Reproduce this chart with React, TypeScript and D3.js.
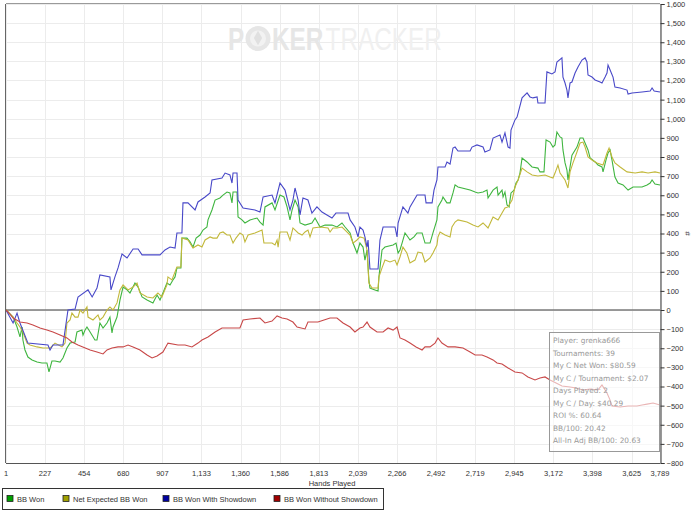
import React, { useEffect, useRef } from 'react';
import * as d3 from 'd3';

// series values as [hand, bb] pairs
const bbWon: [number, number][] = [
  [1, 0], [42, -37], [65, -89], [82, -141], [94, -89], [99, -157], [111, -209], [128, -246], [152, -261],
  [181, -272], [209, -277], [238, -277], [250, -324], [267, -267], [285, -267], [314, -272], [331, -251],
  [354, -199], [372, -173], [401, -167], [412, -115], [441, -105], [447, -131], [459, -105], [470, -89],
  [488, -115], [516, -157], [528, -157], [545, -68], [563, -94], [586, -68], [603, -37], [615, -120],
  [621, -89], [644, -37], [661, 52], [679, 120], [702, 105], [719, 89], [748, 141], [766, 120], [789, 68],
  [818, 52], [852, 37], [876, 78], [893, 52], [910, 89], [933, 141], [951, 131], [968, 157], [980, 173],
  [991, 220], [1014, 220], [1020, 376], [1049, 376], [1067, 356], [1084, 329], [1102, 376], [1125, 392],
  [1142, 418], [1165, 434], [1171, 471], [1194, 523], [1212, 575], [1240, 586], [1258, 601], [1281, 617],
  [1298, 612], [1310, 560], [1316, 617], [1339, 617], [1345, 486], [1368, 471], [1385, 455], [1414, 471],
  [1455, 481], [1472, 460], [1490, 444], [1501, 539], [1542, 560], [1559, 523], [1588, 601], [1611, 591],
  [1629, 539], [1646, 471], [1658, 523], [1675, 575], [1693, 539], [1704, 455], [1733, 444], [1773, 455],
  [1791, 481], [1820, 434], [1849, 444], [1889, 444], [1918, 434], [1947, 455], [1965, 434], [1994, 403],
  [2011, 350], [2034, 298], [2051, 350], [2069, 329], [2080, 261], [2092, 314], [2103, 157], [2109, 115],
  [2138, 105], [2156, 99], [2161, 173], [2179, 314], [2196, 329], [2243, 340], [2260, 350], [2272, 298],
  [2283, 314], [2295, 350], [2312, 403], [2329, 382], [2341, 366], [2364, 382], [2382, 403], [2411, 403],
  [2428, 350], [2457, 350], [2474, 403], [2497, 471], [2503, 539], [2526, 575], [2532, 591], [2555, 560],
  [2573, 560], [2590, 612], [2602, 654], [2619, 643], [2689, 627], [2718, 617], [2735, 612], [2764, 617],
  [2787, 627], [2793, 586], [2822, 627], [2845, 643], [2851, 601], [2874, 627], [2880, 591], [2891, 617],
  [2903, 549], [2915, 539], [2926, 612], [2944, 627], [2955, 664], [2967, 680], [2978, 716], [2990, 795],
  [3019, 774], [3048, 748], [3082, 742], [3094, 722], [3117, 722], [3129, 889], [3152, 878], [3169, 852],
  [3181, 863], [3192, 931], [3210, 905], [3221, 899], [3227, 837], [3239, 769], [3250, 732], [3256, 680],
  [3268, 748], [3279, 810], [3308, 852], [3326, 899], [3343, 899], [3355, 873], [3372, 837], [3384, 795],
  [3413, 774], [3430, 758], [3453, 748], [3459, 722], [3476, 784], [3488, 821], [3500, 837], [3511, 784],
  [3528, 695], [3546, 664], [3575, 654], [3604, 627], [3633, 643], [3685, 643], [3714, 654], [3732, 664],
  [3743, 680], [3760, 659], [3789, 654],
];

const netExpected: [number, number][] = [
  [1, 0], [42, -37], [65, -68], [82, -89], [99, -115], [123, -173], [140, -183], [181, -193], [215, -199],
  [256, -199], [285, -173], [325, -193], [343, -173], [354, -68], [372, -52], [383, -16], [401, -37],
  [418, -37], [430, 0], [447, -16], [470, 16], [476, -37], [505, -52], [534, -26], [545, -52], [563, -37],
  [586, 0], [603, 16], [621, 0], [644, 37], [661, 105], [679, 131], [708, 105], [737, 120], [760, 141],
  [777, 89], [818, 68], [852, 63], [881, 89], [904, 68], [933, 131], [939, 173], [962, 157], [991, 225],
  [1014, 225], [1020, 376], [1055, 366], [1084, 324], [1113, 340], [1136, 329], [1154, 366], [1183, 382],
  [1200, 376], [1223, 376], [1240, 403], [1258, 408], [1281, 392], [1298, 392], [1316, 350], [1333, 376],
  [1356, 403], [1374, 392], [1385, 356], [1403, 392], [1443, 403], [1484, 418], [1495, 350], [1542, 350],
  [1559, 340], [1571, 366], [1577, 329], [1588, 408], [1629, 408], [1646, 366], [1663, 429], [1693, 403],
  [1716, 392], [1733, 408], [1750, 418], [1762, 382], [1779, 429], [1820, 434], [1866, 429], [1878, 408],
  [1895, 429], [1918, 429], [1947, 434], [1965, 418], [1994, 392], [2011, 350], [2034, 366], [2051, 382],
  [2075, 376], [2092, 314], [2103, 141], [2121, 115], [2156, 115], [2161, 173], [2179, 220], [2196, 261],
  [2225, 251], [2254, 261], [2266, 235], [2283, 277], [2300, 329], [2323, 298], [2341, 246], [2370, 261],
  [2387, 303], [2411, 298], [2428, 251], [2457, 272], [2474, 298], [2497, 340], [2503, 382], [2515, 408],
  [2544, 392], [2573, 382], [2584, 434], [2602, 460], [2619, 471], [2671, 460], [2706, 444], [2735, 434],
  [2764, 455], [2793, 429], [2822, 486], [2851, 471], [2874, 507], [2891, 533], [2909, 539], [2932, 575],
  [2949, 643], [2967, 680], [2990, 742], [3019, 722], [3048, 706], [3082, 701], [3123, 706], [3152, 695],
  [3169, 690], [3181, 716], [3198, 758], [3210, 716], [3239, 680], [3256, 638], [3268, 722], [3285, 769],
  [3308, 826], [3326, 873], [3343, 878], [3355, 852], [3372, 800], [3395, 784], [3424, 769], [3459, 758],
  [3482, 821], [3494, 847], [3511, 800], [3528, 769], [3558, 748], [3598, 722], [3645, 716], [3685, 722],
  [3720, 716], [3760, 722], [3789, 716],
];

const bbShowdown: [number, number][] = [
  [1, 0], [42, -68], [65, -16], [82, -68], [128, -173], [244, -183], [256, -209], [273, -183], [331, -183],
  [360, 0], [401, 5], [418, 68], [476, 105], [500, 68], [528, 115], [545, 183], [603, 173], [609, 105],
  [632, 173], [650, 220], [673, 293], [702, 272], [737, 319], [766, 319], [789, 288], [893, 288], [922, 314],
  [951, 329], [980, 324], [991, 403], [1020, 403], [1026, 560], [1055, 560], [1096, 523], [1113, 565],
  [1154, 591], [1183, 612], [1194, 680], [1252, 690], [1270, 716], [1298, 706], [1310, 664], [1316, 716],
  [1339, 716], [1345, 575], [1374, 533], [1443, 523], [1472, 512], [1490, 591], [1542, 601], [1559, 560],
  [1588, 664], [1617, 627], [1646, 523], [1663, 575], [1675, 638], [1693, 575], [1704, 497], [1721, 586],
  [1750, 575], [1773, 507], [1802, 539], [1831, 512], [1860, 497], [1889, 481], [1912, 507], [1982, 507],
  [1994, 471], [2022, 434], [2040, 382], [2051, 434], [2069, 418], [2080, 382], [2092, 329], [2098, 366],
  [2109, 214], [2156, 214], [2167, 366], [2185, 434], [2254, 434], [2266, 382], [2272, 455], [2300, 539],
  [2329, 507], [2341, 539], [2382, 601], [2428, 601], [2434, 560], [2469, 560], [2480, 627], [2497, 680],
  [2503, 748], [2544, 748], [2555, 774], [2573, 763], [2590, 847], [2602, 852], [2619, 831], [2689, 831],
  [2700, 852], [2729, 863], [2764, 852], [2775, 826], [2804, 837], [2822, 899], [2862, 915], [2874, 878],
  [2891, 926], [2909, 852], [2920, 847], [2926, 941], [2949, 994], [2961, 1009], [2990, 1109], [3019, 1135],
  [3036, 1114], [3053, 1109], [3077, 1114], [3082, 1082], [3123, 1082], [3134, 1245], [3163, 1234],
  [3181, 1245], [3192, 1297], [3221, 1318], [3227, 1218], [3239, 1187], [3250, 1150], [3256, 1109],
  [3268, 1187], [3279, 1192], [3297, 1239], [3314, 1271], [3337, 1307], [3355, 1318], [3366, 1297],
  [3372, 1229], [3395, 1218], [3413, 1203], [3442, 1192], [3453, 1187], [3471, 1218], [3482, 1239],
  [3488, 1281], [3500, 1255], [3517, 1218], [3528, 1166], [3558, 1161], [3598, 1150], [3604, 1129],
  [3627, 1135], [3685, 1140], [3732, 1145], [3743, 1161], [3755, 1145], [3789, 1140],
];

const bbNoShowdown: [number, number][] = [
  [1, 0], [24, -21], [42, -42], [82, -63], [123, -68], [157, -78], [198, -94], [238, -105], [273, -115],
  [314, -131], [354, -146], [383, -167], [418, -183], [488, -209], [528, -220], [563, -230], [586, -209],
  [615, -199], [650, -193], [679, -193], [708, -183], [737, -193], [777, -209], [818, -235], [847, -251],
  [876, -240], [910, -220], [939, -173], [997, -183], [1038, -183], [1078, -193], [1113, -173], [1136, -157],
  [1171, -141], [1212, -115], [1252, -94], [1310, -94], [1356, -94], [1374, -52], [1414, -47], [1472, -42],
  [1501, -68], [1542, -58], [1571, -31], [1600, -42], [1629, -47], [1663, -63], [1687, -89], [1733, -99],
  [1750, -63], [1808, -63], [1843, -52], [1878, -42], [1918, -42], [1953, -68], [1994, -89], [2022, -115],
  [2051, -94], [2069, -89], [2092, -63], [2109, -89], [2150, -115], [2185, -115], [2214, -94], [2243, -105],
  [2266, -89], [2283, -146], [2312, -157], [2341, -173], [2376, -193], [2411, -209], [2428, -193],
  [2457, -193], [2486, -173], [2503, -146], [2526, -173], [2561, -193], [2602, -193], [2648, -199],
  [2689, -220], [2718, -235], [2758, -235], [2787, -246], [2822, -261], [2845, -277], [2874, -282],
  [2909, -303], [2949, -324], [2990, -329], [3024, -350], [3065, -366], [3094, -356], [3123, -350],
  [3152, -366], [3187, -382], [3221, -397], [3268, -403], [3302, -408], [3343, -418], [3384, -413],
  [3430, -418], [3453, -392], [3482, -434], [3500, -471], [3511, -502], [3558, -507], [3604, -502],
  [3656, -502], [3685, -497], [3714, -492], [3749, -486], [3789, -497],
];

const xTicks = [1, 227, 454, 680, 907, 1133, 1360, 1586, 1813, 2039, 2266, 2492, 2719, 2945, 3172, 3398, 3625, 3789];
const yTicks = d3.range(-800, 1601, 100);

const seriesNames = ['BB Won', 'Net Expected BB Won', 'BB Won With Showdown', 'BB Won Without Showdown'];
const seriesData = [bbWon, netExpected, bbShowdown, bbNoShowdown];
const lineColors = ['#3fb53f', '#c2b83a', '#4848c8', '#c84848'];
const swatchColors = ['#00a000', '#a0a000', '#0000a0', '#a00000'];

const statLines = [
  'Player: grenka666',
  'Tournaments: 39',
  'My C Net Won: $80.59',
  'My C / Tournament: $2.07',
  'Days Played: 2',
  'My C / Day: $40.29',
  'ROI %: 60.64',
  'BB/100: 20.42',
  'All-In Adj BB/100: 20.63',
];

const App = () => {
  const ref = useRef<SVGSVGElement>(null);

  useEffect(() => {
    const left = 6, right = 660, top = 4, bottom = 463;
    const svg = d3.select(ref.current);
    svg.selectAll('*').remove();

    const x = d3.scaleLinear().domain([1, 3789]).range([left, right]);
    const y = d3.scaleLinear().domain([-800, 1600]).range([bottom, top]);

    svg.append('rect').attr('width', 700).attr('height', 516).attr('fill', '#fff');

    // grid
    const grid = svg.append('g').attr('stroke', '#ececec').attr('stroke-width', 1);
    grid.selectAll('line.h').data(yTicks).enter().append('line')
      .attr('x1', left).attr('x2', right)
      .attr('y1', (d) => Math.round(y(d)) + 0.5).attr('y2', (d) => Math.round(y(d)) + 0.5);
    grid.selectAll('line.v').data(xTicks).enter().append('line')
      .attr('x1', (d) => Math.round(x(d)) + 0.5).attr('x2', (d) => Math.round(x(d)) + 0.5)
      .attr('y1', top).attr('y2', bottom);

    // watermark (horizontally squeezed logo text)
    const sx = 0.76;
    const wm = svg.append('g').attr('font-family', 'Liberation Sans, Arial, sans-serif').attr('font-size', 32);
    wm.append('text').attr('transform', `scale(${sx},1)`).attr('x', 228 / sx).attr('y', 50)
      .attr('fill', '#e6e6e6').attr('font-weight', 'bold').text('P');
    wm.append('circle').attr('cx', 258).attr('cy', 38.5).attr('r', 12.5).attr('fill', '#e6e6e6');
    wm.append('circle').attr('cx', 258).attr('cy', 38.5).attr('r', 8).attr('fill', '#f2f2f2');
    wm.append('path').attr('d', d3.symbol(d3.symbolDiamond, 60)()).attr('transform', 'translate(258,38)')
      .attr('fill', '#e0e0e0');
    const logo = wm.append('text').attr('transform', `scale(${sx},1)`).attr('x', 272 / sx).attr('y', 50);
    logo.append('tspan').attr('fill', '#e6e6e6').attr('font-weight', 'bold').text('KER');
    logo.append('tspan').attr('dx', 3).attr('fill', '#f0f0f0').text('TRACKER');

    // zero line
    svg.append('line').attr('x1', left).attr('x2', right).attr('y1', y(0)).attr('y2', y(0))
      .attr('stroke', '#7a7a7a').attr('stroke-width', 1.6);

    // lines
    const line = d3.line<[number, number]>().x((d) => x(d[0])).y((d) => y(d[1]));
    seriesData.forEach((s, i) => {
      svg.append('path').datum(s).attr('d', line).attr('fill', 'none')
        .attr('stroke', lineColors[i]).attr('stroke-width', 1.1);
    });

    // frame
    svg.append('line').attr('x1', left).attr('x2', right).attr('y1', top - 0.5).attr('y2', top - 0.5)
      .attr('stroke', '#9a9a9a');
    svg.append('line').attr('x1', left - 0.5).attr('x2', left - 0.5).attr('y1', top).attr('y2', bottom)
      .attr('stroke', '#666');
    svg.append('line').attr('x1', left).attr('x2', right).attr('y1', bottom + 0.5).attr('y2', bottom + 0.5)
      .attr('stroke', '#555');

    // right axis
    const yAxis = svg.append('g').attr('transform', `translate(${right + 0.5},0)`)
      .call(d3.axisRight(y).tickValues(yTicks).tickSize(4).tickPadding(2).tickFormat(d3.format(',')));
    yAxis.select('.domain').attr('stroke', '#333');
    yAxis.selectAll('.tick line').attr('stroke', '#333');
    yAxis.selectAll('text').attr('font-family', 'Liberation Sans, Arial, sans-serif')
      .attr('font-size', 7.5).attr('fill', '#333');

    svg.append('text').attr('transform', `translate(690,${y(400)}) rotate(-90)`).attr('text-anchor', 'middle')
      .attr('font-family', 'Liberation Sans, Arial, sans-serif').attr('font-size', 8).attr('fill', '#333').text('#');

    // x labels
    svg.append('g').selectAll('text').data(xTicks).enter().append('text')
      .attr('x', (d) => x(d)).attr('y', 476).attr('text-anchor', 'middle')
      .attr('font-family', 'Liberation Sans, Arial, sans-serif').attr('font-size', 7.5).attr('fill', '#333')
      .text((d) => d3.format(',')(d));
    svg.append('text').attr('x', 332).attr('y', 486).attr('text-anchor', 'middle')
      .attr('font-family', 'Liberation Sans, Arial, sans-serif').attr('font-size', 7.5).attr('fill', '#333')
      .text('Hands Played');

    // stats box
    svg.append('rect').attr('x', 549.5).attr('y', 332.5).attr('width', 110).attr('height', 119)
      .attr('fill', '#fff').attr('fill-opacity', 0.6).attr('stroke', '#999');
    svg.append('g').selectAll('text').data(statLines).enter().append('text')
      .attr('x', 553).attr('y', (d, i) => 343 + i * 12.5)
      .attr('font-family', 'DejaVu Sans, sans-serif').attr('font-size', 7.4).attr('fill', '#999')
      .text((d) => d);

    // legend
    svg.append('rect').attr('x', 2.5).attr('y', 488.5).attr('width', 381).attr('height', 21)
      .attr('fill', '#fff').attr('stroke', '#333');
    const legendX = [7, 63, 163, 274];
    const items = svg.append('g').selectAll('g').data(seriesNames).enter().append('g')
      .attr('transform', (d, i) => `translate(${legendX[i]},495.5)`);
    items.append('rect').attr('width', 6).attr('height', 6).attr('fill', (d, i) => swatchColors[i])
      .attr('stroke', '#222').attr('stroke-width', 0.8);
    items.append('text').attr('x', 10).attr('y', 6).attr('font-family', 'Liberation Sans, Arial, sans-serif')
      .attr('font-size', 7.5).attr('fill', '#333').text((d) => d);
  }, []);

  return (
    <svg ref={ref} width={700} height={516} style={{ position: 'absolute', left: 0, top: 0 }} />
  );
};

export default App;
